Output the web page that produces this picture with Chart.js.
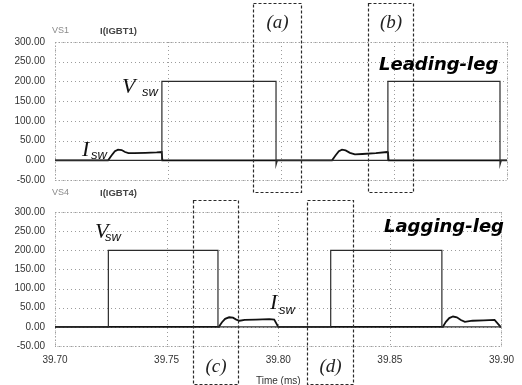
<!DOCTYPE html>
<html><head><meta charset="utf-8">
<script src="https://cdn.jsdelivr.net/npm/chart.js@4/dist/chart.umd.min.js"></script>
<style>
html,body{margin:0;padding:0;background:#fff;width:522px;height:385px;overflow:hidden;}
#wrap{position:relative;width:522px;height:385px;overflow:hidden;}
canvas{position:absolute;left:0;}
#c1{top:0;} #c2{top:196px;}
.t{position:absolute;white-space:nowrap;line-height:1;}
.hdr1{font:9px "Liberation Sans",Arial,sans-serif;color:#8a8a8a;}
.hdr2{font:bold 9.5px "Liberation Sans",Arial,sans-serif;color:#444;}
.box{font:italic 19px "Liberation Serif",serif;color:#222;transform:translateX(-50%);}
.leg{font:bold italic 18px "DejaVu Sans",sans-serif;color:#000;}
.sym{font:italic 22px "Liberation Serif",serif;color:#111;}
.sub{font:italic 13px "Liberation Sans",sans-serif;color:#111;}
</style></head><body>
<div id="wrap">
<canvas id="c1" width="522" height="196" style="width:522px;height:196px"></canvas>
<canvas id="c2" width="522" height="193" style="width:522px;height:193px"></canvas>

<div class="t hdr1" style="left:52px;top:25px">VS1</div>
<div class="t hdr2" style="left:100px;top:25px">I(IGBT1)</div>
<div class="t hdr1" style="left:52px;top:187px">VS4</div>
<div class="t hdr2" style="left:100px;top:187px">I(IGBT4)</div>

<div class="t leg" style="left:379px;top:53px">Leading-leg</div>
<div class="t leg" style="left:384px;top:215px">Lagging-leg</div>

<div class="t sym" style="left:122px;top:73px">V</div><div class="t sub" style="left:142px;top:84px">sw</div>
<div class="t sym" style="left:82px;top:136px">I</div><div class="t sub" style="left:91px;top:147px">sw</div>
<div class="t sym" style="left:95px;top:218px">V</div><div class="t sub" style="left:105px;top:229px">sw</div>
<div class="t sym" style="left:270px;top:289px">I</div><div class="t sub" style="left:279px;top:302px">sw</div>

<div class="t box" id="lb0" style="top:11px">(a)</div>
<div class="t box" id="lb1" style="top:11px">(b)</div>
<div class="t box" id="lb2" style="top:355px">(c)</div>
<div class="t box" id="lb3" style="top:355px">(d)</div>
</div>
<script>
// ---- data ----
const timeMin = 39.70, timeMax = 39.90, timeStep = 0.05;
const valueMin = -50, valueMax = 300, valueStep = 50;

const vs1Time  = [39.700, 39.7473, 39.7473, 39.7978, 39.7978, 39.7984, 39.8473, 39.8473, 39.8969, 39.8969, 39.8975, 39.900];
const vs1Value = [0,      0,       200,     200,     -12,     0,       0,       200,     200,     -12,     0,       0];

const i1Time  = [39.700, 39.7235, 39.7250, 39.7265, 39.7279, 39.7295, 39.7310, 39.7325, 39.7350, 39.7400, 39.7450, 39.7472, 39.7475,
                 39.8226, 39.8241, 39.8256, 39.8270, 39.8286, 39.8305, 39.8327, 39.8360, 39.8420, 39.8470, 39.8473, 39.8476, 39.900];
const i1Value = [0, 0, 12, 23, 27, 26, 21, 18, 18, 19, 20, 21, 0,
                 0, 12, 23, 27, 25, 19, 15, 16, 18, 21, 22, 0, 0];

const vs4Time  = [39.700, 39.7239, 39.7239, 39.7730, 39.7730, 39.8235, 39.8235, 39.8733, 39.8733, 39.900];
const vs4Value = [0,      0,       200,     200,     0,       0,       200,     200,     0,       0];

const i4Time  = [39.700, 39.7734, 39.7748, 39.7762, 39.7780, 39.7797, 39.7812, 39.7827, 39.7850, 39.7900, 39.7960, 39.7982, 39.8000,
                 39.8737, 39.8751, 39.8766, 39.8783, 39.8800, 39.8818, 39.8836, 39.8870, 39.8920, 39.8969, 39.8996, 39.900];
const i4Value = [0, 0, 12, 21, 25, 24, 19, 16, 18, 19, 20, 19, 0,
                 0, 13, 23, 27, 25, 18, 13, 16, 17, 18, 0, 0];

// highlighted switching intervals (a),(b) on leading leg, (c),(d) on lagging leg
const boxNames = ['(a)', '(b)', '(c)', '(d)'];
const boxFrom  = [39.7876, 39.8385, 39.7619, 39.8128];
const boxTo    = [39.8088, 39.8584, 39.7819, 39.8336];

const xTitle = 'Time (ms)';

// ---- helpers ----
const zip = (xs, ys) => xs.map((x, i) => ({x, y: ys[i]}));
const GRID = '#9c9c9c';
const tickFont = {family: '"Liberation Sans", Arial, sans-serif', size: 10};

const framePlugin = {
  id: 'frameBox',
  beforeDatasetsDraw(chart) {
    const a = chart.chartArea, ctx = chart.ctx;
    const xs = chart.scales.x, ys = chart.scales.y;
    ctx.save();
    ctx.strokeStyle = GRID; ctx.lineWidth = 1; ctx.setLineDash([1, 3]);
    ctx.beginPath();
    xs.ticks.forEach(t => {
      const px = Math.round(xs.getPixelForValue(t.value)) + 0.5;
      ctx.moveTo(px, a.top); ctx.lineTo(px, a.bottom);
    });
    ys.ticks.forEach(t => {
      const py = Math.round(ys.getPixelForValue(t.value)) + 0.5;
      ctx.moveTo(a.left, py); ctx.lineTo(a.right, py);
    });
    ctx.stroke();
    ctx.setLineDash([1, 2]);
    ctx.strokeRect(Math.round(a.left) + 0.5, Math.round(a.top) + 0.5, Math.round(a.width), Math.round(a.height));
    ctx.restore();
  },
  afterDraw(chart, args, opts) {
    const ctx = chart.ctx, xs = chart.scales.x;
    ctx.save();
    ctx.strokeStyle = '#2a2a2a'; ctx.lineWidth = 1.2; ctx.setLineDash([3, 2]);
    (opts.boxes || []).forEach(i => {
      const l = Math.round(xs.getPixelForValue(boxFrom[i])) + 0.5;
      const r = Math.round(xs.getPixelForValue(boxTo[i])) + 0.5;
      ctx.strokeRect(l, opts.top + 0.5, r - l, opts.bottom - opts.top);
      const lab = document.getElementById('lb' + i);
      lab.style.left = ((l + r) / 2) + 'px';
    });
    ctx.restore();
  }
};

function makeChart(id, vT, vV, iT, iV, isBottom, boxes, boxTop, boxBottom) {
  return new Chart(document.getElementById(id), {
    type: 'line',
    data: {
      datasets: [
        {data: zip(vT, vV), borderColor: '#2b2b2b', borderWidth: 1.2, pointRadius: 0, fill: false, tension: 0},
        {data: zip(iT, iV), borderColor: '#111', borderWidth: 1.8, pointRadius: 0, fill: false, tension: 0}
      ]
    },
    options: {
      responsive: false, animation: false, events: [],
      layout: {padding: {top: isBottom ? 9 : 42, left: 0, right: 15, bottom: isBottom ? 0 : 13}},
      plugins: {legend: {display: false}, tooltip: {enabled: false},
                frameBox: {boxes, top: boxTop, bottom: boxBottom}},
      scales: {
        x: {
          type: 'linear', min: timeMin, max: timeMax,
          ticks: {display: isBottom, stepSize: timeStep, padding: 8, maxRotation: 0,
                  callback: v => v.toFixed(2), font: tickFont, color: '#333'},
          grid: {display: false, drawTicks: false},
          border: {display: false},
          title: {display: isBottom, text: xTitle, font: tickFont, color: '#333', padding: {top: 0, bottom: 2}},
          afterFit: s => { s.height = isBottom ? 43 : 0; }
        },
        y: {
          min: valueMin, max: valueMax,
          ticks: {stepSize: valueStep, padding: 10, callback: v => v.toFixed(2), font: tickFont, color: '#333'},
          grid: {display: false, drawTicks: false},
          border: {display: false},
          afterFit: s => { s.width = 55; }
        }
      }
    },
    plugins: [framePlugin]
  });
}

makeChart('c1', vs1Time, vs1Value, i1Time, i1Value, false, [0, 1], 3, 192);
makeChart('c2', vs4Time, vs4Value, i4Time, i4Value, true, [2, 3], 4, 188);
</script>
</body></html>
